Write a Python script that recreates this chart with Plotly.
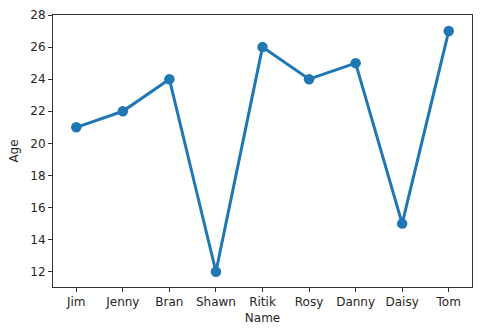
import plotly.graph_objects as go

names = ["Jim", "Jenny", "Bran", "Shawn", "Ritik", "Rosy", "Danny", "Daisy", "Tom"]
ages = [21, 22, 24, 12, 26, 24, 25, 15, 27]
y_ticks = [12, 14, 16, 18, 20, 22, 24, 26, 28]

fig = go.Figure(go.Scatter(
    x=names, y=ages, mode="lines+markers",
    line=dict(color="#1f77b4", width=3),
    marker=dict(color="#1f77b4", size=10.5),
))

axis_common = dict(
    showline=True, mirror=True, linecolor="#333333", linewidth=1,
    ticks="outside", ticklen=4, tickwidth=1, tickcolor="#333333",
    showgrid=False, zeroline=False, automargin=False,
    tickfont=dict(family="DejaVu Sans", size=12, color="#262626"),
)

fig.update_layout(
    width=503, height=330,
    margin=dict(l=53, r=31, t=15, b=43),
    paper_bgcolor="white", plot_bgcolor="white",
    showlegend=False,
    font=dict(family="DejaVu Sans", size=12, color="#262626"),
    xaxis=dict(range=[-0.5, 8.5], title=dict(text="Name", standoff=5,
               font=dict(family="DejaVu Sans", size=12)), **axis_common),
    yaxis=dict(range=[11.05, 28.0], tickvals=y_ticks, title=dict(text="Age", standoff=9,
               font=dict(family="DejaVu Sans", size=12)), **axis_common),
)

fig.write_html("out.html")
